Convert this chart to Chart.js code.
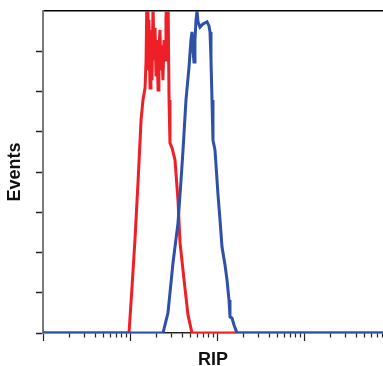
<!DOCTYPE html>
<html>
<head>
<meta charset="utf-8">
<script src="https://cdn.jsdelivr.net/npm/chart.js@4/dist/chart.umd.min.js"></script>
<style>
  html, body { margin: 0; padding: 0; background: #fff; }
  #wrap { width: 383px; height: 366px; }
</style>
</head>
<body>
<div id="wrap"><canvas id="c" width="383" height="366"></canvas></div>
<script>
// Red histogram (control): fluorescence intensity and event counts
const redX = [1, 9.74, 10.5, 11.4, 12.4, 13.4, 14.1, 14.9, 15.3, 15.7, 16.1, 16.5, 17.0, 17.4, 17.9, 18.4, 18.9, 19.4, 19.9, 20.4, 21.0, 21.5, 22.1, 22.7, 23.3, 23.9, 24.6, 25.3, 25.9, 26.6, 27.3, 28.1, 28.8, 30.4, 32.9, 35.6, 37.6, 41.8, 46.4, 51.6, 8090];
const redY = [0, 0, 107, 231, 380, 529, 579, 609, 678, 860, 653, 778, 609, 753, 628, 815, 678, 758, 641, 728, 604, 703, 753, 653, 715, 628, 728, 678, 778, 860, 860, 579, 472, 460, 430, 330, 224, 132, 45, 0, 0];
// Blue histogram (RIP stained)
const blueX = [1, 23.95, 27.3, 31.2, 35.6, 38.6, 40.7, 44.0, 47.7, 50.2, 51.6, 53.0, 54.4, 55.8, 57.4, 58.9, 60.5, 63.8, 69.0, 76.8, 80.9, 83.1, 85.3, 87.6, 89.9, 94.8, 102.7, 108.3, 114.1, 123.6, 130.3, 137.4, 141.0, 148.7, 156.8, 169.9, 8090];
const blueY = [0, 0, 50, 174, 273, 380, 455, 579, 661, 728, 748, 703, 673, 728, 778, 800, 773, 760, 768, 773, 763, 748, 678, 579, 479, 455, 343, 281, 214, 169, 132, 82, 40, 37, 20, 0, 0];
// Axis ranges and tick values
const xMin = 1;
const xMax = 8090;
const xDecades = [1, 10, 100, 1000];
const xMultipliers = [1, 2, 3, 4, 5, 6, 7, 8, 9];
const yMax = 800;
const yStep = 100;
const xTitle = 'RIP';
const yTitle = 'Events';

const xTickValues = [];
xDecades.forEach(d => xMultipliers.forEach(m => { const v = d * m; if (v <= xMax) xTickValues.push(v); }));

const toPts = (xs, ys) => xs.map((x, i) => ({x: x, y: ys[i]}));
const titleFont = { family: "'Liberation Sans', Arial, sans-serif", weight: 'bold', size: 18 };

new Chart(document.getElementById('c'), {
  type: 'line',
  data: {
    datasets: [
      { label: 'RIP', data: toPts(blueX, blueY), borderColor: '#2f50a8', borderWidth: 3, pointRadius: 0, tension: 0, clip: 0, order: 0 },
      { label: 'Control', data: toPts(redX, redY), borderColor: '#ee1f26', borderWidth: 3, pointRadius: 0, tension: 0, clip: 0, order: 1 }
    ]
  },
  options: {
    responsive: false,
    animation: false,
    layout: { padding: { top: 11, left: 0, right: 0, bottom: 0 }, autoPadding: false },
    plugins: { legend: { display: false }, tooltip: { enabled: false } },
    scales: {
      x: {
        type: 'logarithmic', position: 'bottom', min: xMin, max: xMax,
        afterBuildTicks: (axis) => { axis.ticks = xTickValues.map(v => ({ value: v, major: xDecades.includes(v) })); },
        ticks: { display: false, autoSkip: false },
        grid: {
          drawOnChartArea: false, drawTicks: true, tickLength: 8,
          tickColor: '#222', tickWidth: 1.2,
          tickBorderDash: (ctx) => (ctx.tick && xDecades.includes(ctx.tick.value)) ? [] : [4, 20]
        },
        border: { display: true, color: '#222', width: 1.5 },
        title: { display: true, text: xTitle, color: '#111', font: Object.assign({}, titleFont, { lineHeight: 0.7 }), padding: { top: 12.4, bottom: 0 } }
      },
      xTop: {
        type: 'logarithmic', position: 'top', min: xMin, max: xMax,
        ticks: { display: false },
        grid: { display: false, drawTicks: false },
        border: { display: true, color: '#000', width: 1.5 }
      },
      y: {
        type: 'linear', position: 'left', min: 0, max: yMax,
        ticks: { display: false, stepSize: yStep },
        grid: {
          drawOnChartArea: false, drawTicks: true, tickLength: 7, tickWidth: 1.5,
          tickColor: (ctx) => (ctx.tick && ctx.tick.value >= yMax) ? 'rgba(0,0,0,0)' : '#222'
        },
        border: { display: true, color: '#7a7a7a', width: 2 },
        title: { display: true, text: yTitle, color: '#111', font: Object.assign({}, titleFont, { lineHeight: 1.2 }), padding: { top: 4.2, bottom: 10.2 } }
      }
    }
  }
});
</script>
</body>
</html>
